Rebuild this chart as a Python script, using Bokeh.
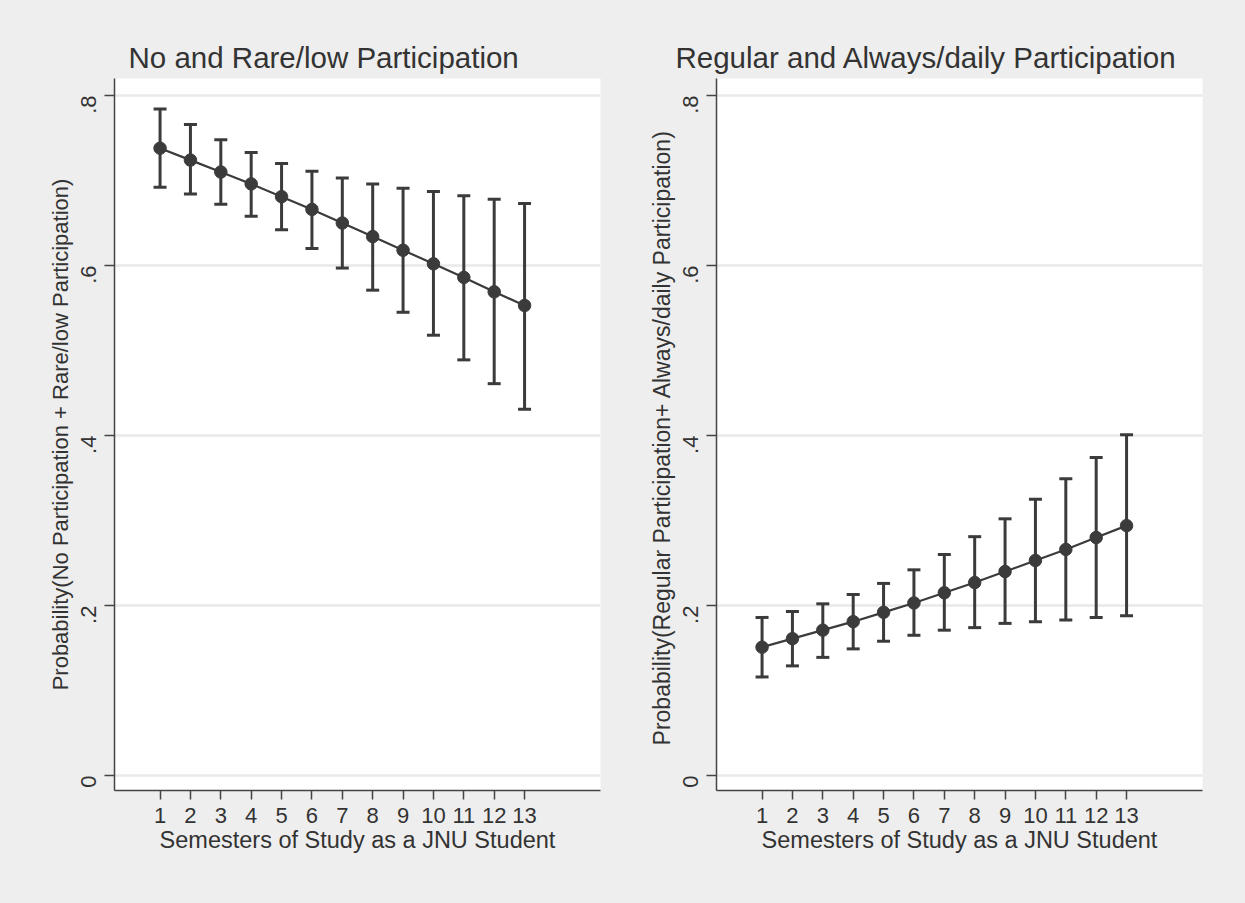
import math
from bokeh.plotting import figure
from bokeh.models import ColumnDataSource, Whisker, TeeHead, Range1d, FixedTicker
from bokeh.layouts import row
from bokeh.embed import file_html
from bokeh.resources import INLINE

# ---------------- data ----------------
semesters = [1, 2, 3, 4, 5, 6, 7, 8, 9, 10, 11, 12, 13]
x_tick_labels = ["1", "2", "3", "4", "5", "6", "7", "8", "9", "10", "11", "12", "13"]

low_mean = [0.738, 0.724, 0.710, 0.696, 0.681, 0.666, 0.650, 0.634, 0.618, 0.602, 0.586, 0.569, 0.553]
low_upper = [0.784, 0.766, 0.748, 0.733, 0.720, 0.711, 0.703, 0.696, 0.691, 0.687, 0.682, 0.678, 0.673]
low_lower = [0.692, 0.684, 0.672, 0.658, 0.642, 0.620, 0.597, 0.571, 0.545, 0.518, 0.489, 0.461, 0.431]

high_mean = [0.151, 0.161, 0.171, 0.181, 0.192, 0.203, 0.215, 0.227, 0.240, 0.253, 0.266, 0.280, 0.294]
high_upper = [0.186, 0.193, 0.202, 0.213, 0.226, 0.242, 0.260, 0.281, 0.302, 0.325, 0.349, 0.374, 0.401]
high_lower = [0.116, 0.129, 0.139, 0.149, 0.158, 0.165, 0.171, 0.174, 0.179, 0.181, 0.183, 0.186, 0.188]

y_ticks = [0, 0.2, 0.4, 0.6, 0.8]
y_tick_labels = ["0", ".2", ".4", ".6", ".8"]

titles = ["No and Rare/low Participation", "Regular and Always/daily Participation"]
y_labels = ["Probability(No Participation + Rare/low Participation)",
            "Probability(Regular  Participation+ Always/daily Participation)"]
x_label = "Semesters of Study as a JNU Student"

# ---------------- style ----------------
FONT = "Liberation Sans"
BG = "#eeeeee"
DARK = "#3b3b3b"
TEXT = "#333333"


def make_panel(title, ylabel, ylabel_size, mean, lower, upper, border_left, border_right, title_offset):
    p = figure(width=border_left + 486 + border_right, height=900,
               frame_width=486, frame_height=712,
               min_border_left=border_left, min_border_right=border_right,
               min_border_top=78, min_border_bottom=110,
               x_range=Range1d(-0.5, 15.5), y_range=Range1d(-0.0176, 0.82),
               output_backend="svg", toolbar_location=None,
               background_fill_color="white", border_fill_color=BG,
               outline_line_color=None)

    p.title.text = title
    p.title.text_font = FONT
    p.title.text_font_size = "29.5px"
    p.title.text_font_style = "normal"
    p.title.text_color = TEXT
    p.title.align = "left"
    p.title.offset = title_offset

    # axes
    for ax in (p.xaxis[0], p.yaxis[0]):
        ax.axis_line_color = "#444444"
        ax.axis_line_width = 1.5
        ax.major_tick_line_color = "#444444"
        ax.major_tick_line_width = 1.5
        ax.major_tick_in = 0
        ax.minor_tick_line_color = None
        ax.major_label_text_font = FONT
        ax.major_label_text_font_size = "22px"
        ax.major_label_text_color = TEXT
        ax.axis_label_text_font = FONT
        ax.axis_label_text_font_style = "normal"
        ax.axis_label_text_color = TEXT

    p.xaxis.ticker = FixedTicker(ticks=semesters)
    p.xaxis.major_label_overrides = {s: lab for s, lab in zip(semesters, x_tick_labels)}
    p.xaxis.major_tick_out = 9
    p.xaxis.major_label_standoff = 8
    p.xaxis.axis_label = x_label
    p.xaxis.axis_label_text_font_size = "23.5px"
    p.xaxis.axis_label_standoff = 1

    p.yaxis.ticker = FixedTicker(ticks=y_ticks)
    p.yaxis.major_label_overrides = {t: lab for t, lab in zip(y_ticks, y_tick_labels)}
    p.yaxis.major_tick_out = 10
    p.yaxis.major_label_orientation = math.pi / 2
    p.yaxis.major_label_standoff = 16
    p.yaxis.axis_label = ylabel
    p.yaxis.axis_label_text_font_size = ylabel_size
    p.yaxis.axis_label_standoff = -2

    p.xgrid.grid_line_color = None
    p.ygrid.ticker = FixedTicker(ticks=y_ticks)
    p.ygrid.grid_line_color = "#e9e9e9"
    p.ygrid.grid_line_width = 2.5

    src = ColumnDataSource(dict(x=semesters, y=mean, lo=lower, hi=upper))
    p.line("x", "y", source=src, line_color=DARK, line_width=2.2)
    w = Whisker(base="x", lower="lo", upper="hi", source=src,
                line_color=DARK, line_width=3,
                upper_head=TeeHead(size=13, line_color=DARK, line_width=3),
                lower_head=TeeHead(size=13, line_color=DARK, line_width=3))
    p.add_layout(w)
    p.scatter("x", "y", source=src, size=12.5, fill_color=DARK, line_color=DARK)
    return p


p1 = make_panel(titles[0], y_labels[0], "22px", low_mean, low_lower, low_upper, 114, 30, 14)
p2 = make_panel(titles[1], y_labels[1], "23px", high_mean, high_lower, high_upper, 86, 40, -41)

layout = row(p1, p2, spacing=0)
layout.styles = {"background-color": BG}

html = file_html(layout, INLINE)
html = html.replace("</head>", "<style>html, body {background-color: %s;}</style></head>" % BG, 1)
open("out.html", "w").write(html)
